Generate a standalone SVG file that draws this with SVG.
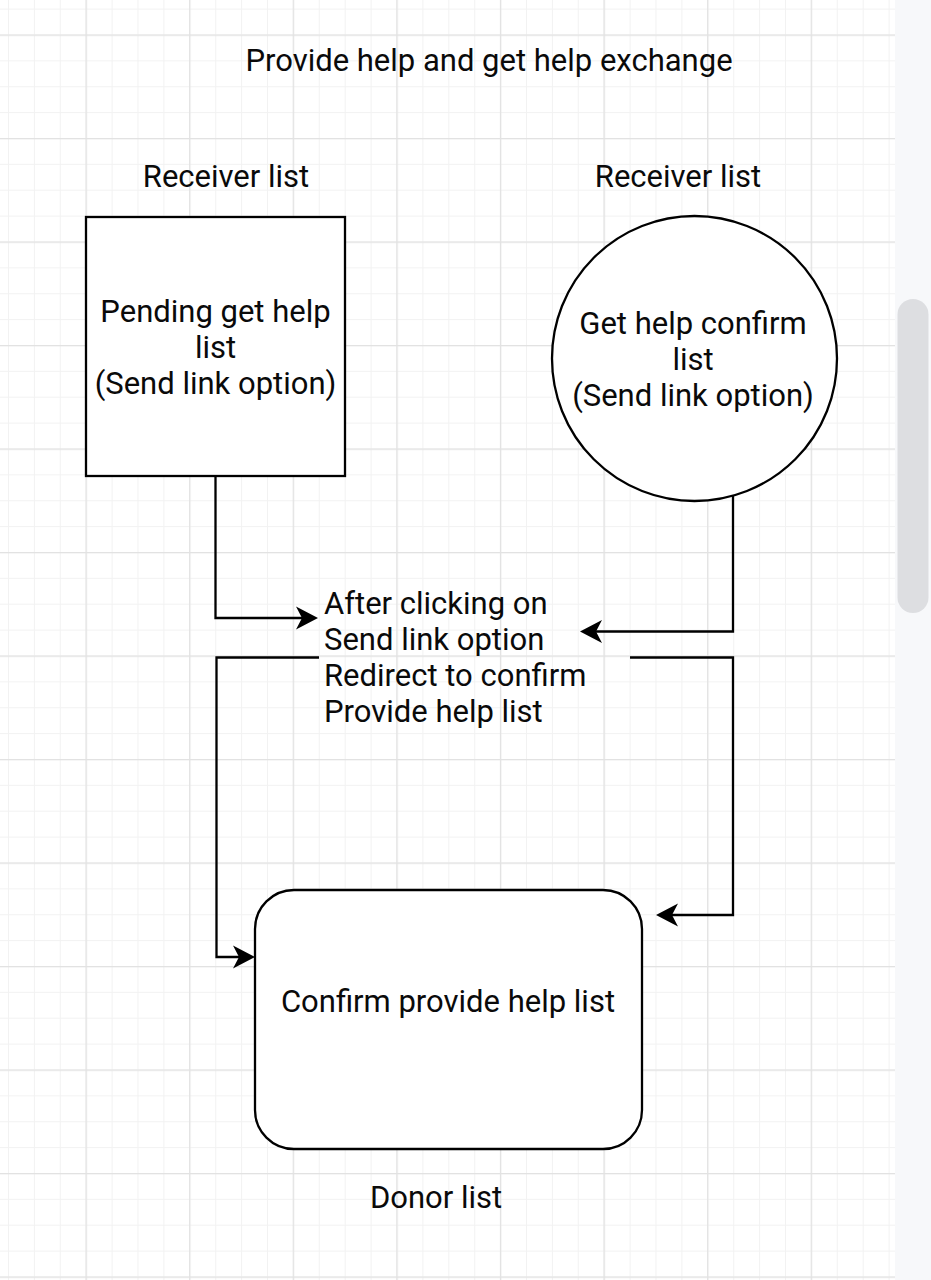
<svg xmlns="http://www.w3.org/2000/svg" width="931" height="1280" viewBox="0 0 931 1280">
<style>
.t{font-family:Roboto,"Liberation Sans",sans-serif;font-size:31px;fill:#0a0a0a}
.c{text-anchor:middle}
.shape{fill:#fff;stroke:#000;stroke-width:2.3}
.edge{fill:none;stroke:#000;stroke-width:2.3}
</style>
<defs>
<pattern id="gMinor" patternUnits="userSpaceOnUse" x="8" y="8.6" width="25.9" height="25.875">
<rect x="0" y="0" width="25.9" height="1" fill="#f2f2f2"/>
<rect x="0" y="0" width="1" height="25.875" fill="#f2f2f2"/>
</pattern>
<pattern id="gMajor" patternUnits="userSpaceOnUse" x="85.5" y="34.5" width="103.6" height="103.5">
<rect x="0" y="0" width="103.6" height="1.3" fill="#e2e2e2"/>
<rect x="0" y="0" width="1.3" height="103.5" fill="#e2e2e2"/>
</pattern>
<marker id="arr" markerUnits="userSpaceOnUse" viewBox="0 -12 23 24" markerWidth="23" markerHeight="24" refX="6" refY="0" orient="auto">
<path d="M0,-11.5 L22,0 L0,11.5 L6,0 Z" fill="#000"/>
</marker>
</defs>
<g id="background">
<rect x="0" y="0" width="931" height="1280" fill="#fff"/>
<rect x="0" y="0" width="895" height="1280" fill="url(#gMinor)"/>
<rect x="0" y="0" width="895" height="1280" fill="url(#gMajor)"/>
<rect x="895" y="0" width="36" height="1280" fill="#f7f8fa"/>
<rect x="897.5" y="299" width="31" height="314" rx="15.5" fill="#dddee1"/>
</g>
<g id="connectors">
<path class="edge" d="M215.5,476 V618 H302" marker-end="url(#arr)"/>
<path class="edge" d="M733,495.5 V631.5 H596" marker-end="url(#arr)"/>
<path class="edge" d="M319,657.5 H216.5 V957 H239" marker-end="url(#arr)"/>
<path class="edge" d="M630,657.5 H733 V915 H672" marker-end="url(#arr)"/>
</g>
<g id="title">
<text class="t c" x="489" y="71">Provide help and get help exchange</text>
</g>
<g id="label-receiver-left">
<text class="t c" x="226" y="187">Receiver list</text>
</g>
<g id="label-receiver-right">
<text class="t c" x="678" y="187">Receiver list</text>
</g>
<g id="node-pending">
<rect class="shape" x="86" y="217" width="259" height="259"/>
<text class="t c" x="215.5" y="322">Pending get help</text>
<text class="t c" x="215.5" y="358">list</text>
<text class="t c" x="215.5" y="394">(Send link option)</text>
</g>
<g id="node-confirm-get">
<circle class="shape" cx="694.5" cy="358.5" r="142.5"/>
<text class="t c" x="693" y="334">Get help confirm</text>
<text class="t c" x="693" y="370">list</text>
<text class="t c" x="693" y="406">(Send link option)</text>
</g>
<g id="node-redirect">
<text class="t" x="324" y="614">After clicking on</text>
<text class="t" x="324" y="650">Send link option</text>
<text class="t" x="324" y="686">Redirect to confirm</text>
<text class="t" x="324" y="722">Provide help list</text>
</g>
<g id="node-confirm-provide">
<rect class="shape" x="255" y="890" width="387" height="259" rx="39" ry="39"/>
<text class="t c" x="448" y="1012">Confirm provide help list</text>
</g>
<g id="label-donor">
<text class="t c" x="436" y="1208">Donor list</text>
</g>
</svg>
